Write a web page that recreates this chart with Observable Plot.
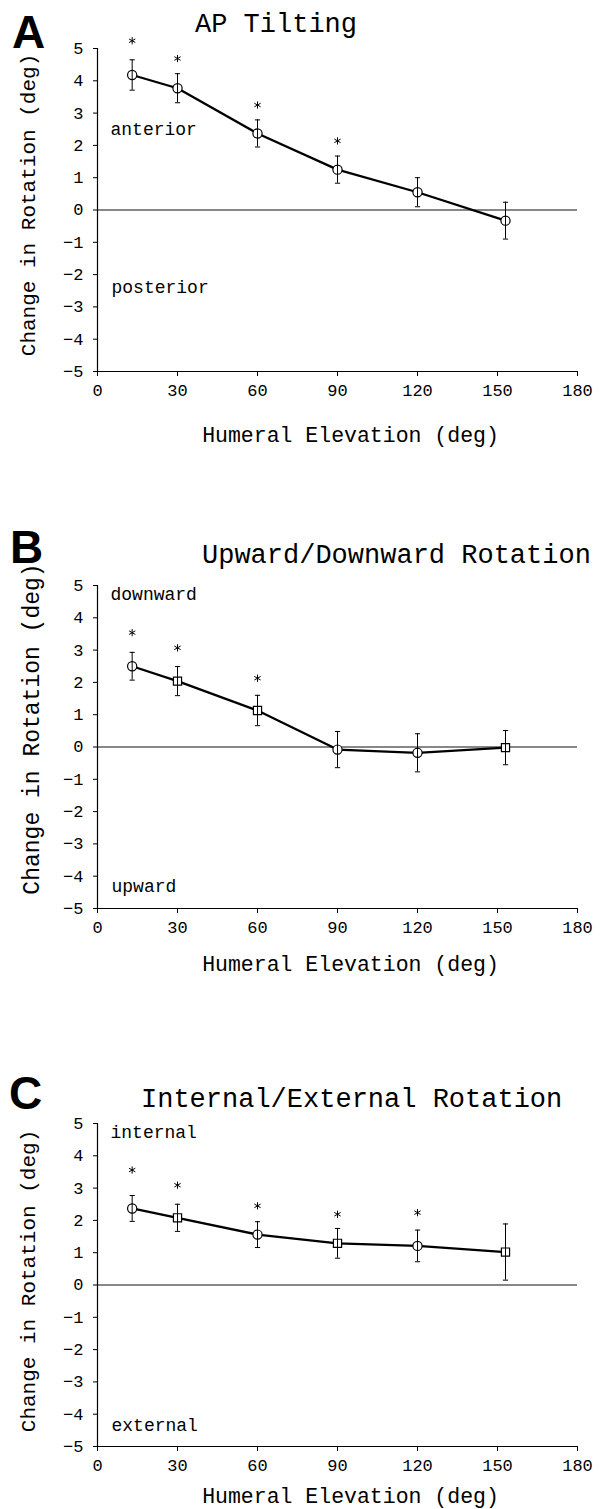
<!DOCTYPE html>
<html><head><meta charset="utf-8">
<script src="https://cdn.jsdelivr.net/npm/d3@7"></script>
<script src="https://cdn.jsdelivr.net/npm/@observablehq/plot@0.6"></script>
<style>
html,body{margin:0;padding:0;background:#fff;}
#root{position:relative;width:601px;height:1509px;overflow:hidden;font-family:"Liberation Mono","Courier New",monospace;color:#000;}
.panel{position:absolute;left:0;}
.letter{position:absolute;font-family:"Liberation Sans",Arial,sans-serif;font-weight:bold;font-size:46px;line-height:46px;}
.title{position:absolute;font-size:27px;line-height:27px;white-space:nowrap;}
</style></head><body><div id="root"></div>
<script>
// ---- data ----
const elevation = [13, 30, 60, 90, 120, 153];
const xTicks = [0, 30, 60, 90, 120, 150, 180];
const yTicks = [-5, -4, -3, -2, -1, 0, 1, 2, 3, 4, 5];

const titles = ["AP Tilting", "Upward/Downward Rotation", "Internal/External Rotation"];
const letters = ["A", "B", "C"];
const highLabels = ["anterior", "downward", "internal"];
const lowLabels = ["posterior", "upward", "external"];
const xLabel = "Humeral Elevation (deg)";
const yLabel = "Change in Rotation (deg)";

const apMean = [4.18, 3.77, 2.37, 1.25, 0.55, -0.33];
const apErr = [0.47, 0.45, 0.42, 0.42, 0.45, 0.57];
const apStar = [5.24, 4.69, 3.25, 2.14, null, null];
const apMarker = ["circle", "circle", "circle", "circle", "circle", "circle"];

const udMean = [2.50, 2.04, 1.13, -0.08, -0.18, -0.02];
const udErr = [0.43, 0.45, 0.47, 0.56, 0.59, 0.53];
const udStar = [3.54, 3.07, 2.13, null, null, null];
const udMarker = ["circle", "square", "square", "circle", "circle", "square"];

const ieMean = [2.37, 2.08, 1.56, 1.29, 1.21, 1.02];
const ieErr = [0.40, 0.42, 0.40, 0.46, 0.49, 0.87];
const ieStar = [3.56, 3.09, 2.45, 2.19, 2.24, null];
const ieMarker = ["circle", "square", "circle", "square", "circle", "square"];

// ---- layout ----
const FONT = "Liberation Mono, Courier New, monospace";
const capSymbol = {draw(ctx, size) { const r = Math.sqrt(size / Math.PI); ctx.moveTo(-r, 0); ctx.lineTo(r, 0); }};

function makePlot(mean, err, star, marker, hiText, loText, opt) {
  const rows = elevation.map((x, i) => ({x, y: mean[i], lo: mean[i] - err[i], hi: mean[i] + err[i], star: star[i], marker: marker[i]}));
  const starred = rows.filter(d => d.star != null);
  return Plot.plot({
    width: 601, height: 10 + 323 + 80,
    marginLeft: 97, marginRight: 24, marginTop: 10, marginBottom: 80,
    style: {fontFamily: FONT, fontSize: "17px", color: "#000", background: "transparent", overflow: "visible"},
    x: {domain: [0, 180]},
    y: {domain: [-5, 5]},
    symbol: {domain: ["circle", "square"], range: ["circle", "square"]},
    marks: [
      Plot.axisX({ticks: xTicks, tickSize: 5, tickPadding: 7, label: null, fontSize: 17, tickFormat: d => String(d)}),
      Plot.axisY({ticks: yTicks, tickSize: 4, tickPadding: 10, label: null, fontSize: 17}),
      Plot.ruleX([0], {stroke: "#000", strokeWidth: 1.2}),
      Plot.ruleY([-5], {stroke: "#000", strokeWidth: 1.2}),
      Plot.ruleY([0], {stroke: "#111", strokeWidth: 1.2}),
      Plot.line(rows, {x: "x", y: "y", stroke: "#000", strokeWidth: 2.3}),
      Plot.dot(rows, {x: "x", y: "y", symbol: "marker", r: 4.6, fill: "white", stroke: "#000", strokeWidth: 1.2}),
      Plot.ruleX(rows, {x: "x", y1: "lo", y2: "hi", stroke: "#000", strokeWidth: 1}),
      Plot.dot(rows, {x: "x", y: "lo", symbol: capSymbol, r: 2.6, fill: "none", stroke: "#000", strokeWidth: 1}),
      Plot.dot(rows, {x: "x", y: "hi", symbol: capSymbol, r: 2.6, fill: "none", stroke: "#000", strokeWidth: 1}),
      Plot.dot(starred, {x: "x", y: "star", symbol: "asterisk", r: 3.4, fill: "none", stroke: "#000", strokeWidth: 1}),
      Plot.text([hiText.text], {frameAnchor: hiText.anchor, textAnchor: "start", lineAnchor: "middle", dx: 13, dy: hiText.dy, fontSize: 18, fontFamily: FONT, fill: "#000"}),
      Plot.text([loText.text], {frameAnchor: loText.anchor, textAnchor: "start", lineAnchor: "middle", dx: 14, dy: loText.dy, fontSize: 18, fontFamily: FONT, fill: "#000"}),
      Plot.text([xLabel], {frameAnchor: "bottom", textAnchor: "middle", lineAnchor: "bottom", dx: 13, dy: opt.xDy, fontSize: 21.5, fontFamily: FONT, fill: "#000"}),
      Plot.text([yLabel], {frameAnchor: "left", textAnchor: "middle", lineAnchor: "middle", rotate: -90, dx: opt.yDx, dy: opt.yDy, fontSize: opt.yFont, fontFamily: FONT, fill: "#000"})
    ]
  });
}

const root = document.getElementById("root");
function addPanel(top, plot, letter, letterPos, title, titlePos) {
  const div = document.createElement("div");
  div.className = "panel";
  div.style.top = top + "px";
  div.appendChild(plot);
  root.appendChild(div);
  const l = document.createElement("div");
  l.className = "letter"; l.textContent = letter;
  l.style.left = letterPos[0] + "px"; l.style.top = letterPos[1] + "px";
  root.appendChild(l);
  const t = document.createElement("div");
  t.className = "title"; t.textContent = title;
  t.style.left = titlePos[0] + "px"; t.style.top = titlePos[1] + "px";
  root.appendChild(t);
}

addPanel(38,
  makePlot(apMean, apErr, apStar, apMarker,
    {text: highLabels[0], anchor: "left", dy: -81}, {text: lowLabels[0], anchor: "left", dy: 77},
    {xDy: 70, yDx: -69, yDy: -5, yFont: 21}),
  letters[0], [12, 9], titles[0], [195, 12]);
addPanel(575,
  makePlot(udMean, udErr, udStar, udMarker,
    {text: highLabels[1], anchor: "top-left", dy: 9}, {text: lowLabels[1], anchor: "bottom-left", dy: -22},
    {xDy: 62, yDx: -66, yDy: -18, yFont: 23}),
  letters[1], [10, 524], titles[1], [202, 543]);
addPanel(1113,
  makePlot(ieMean, ieErr, ieStar, ieMarker,
    {text: highLabels[2], anchor: "top-left", dy: 9}, {text: lowLabels[2], anchor: "bottom-left", dy: -21},
    {xDy: 56, yDx: -69, yDy: -4, yFont: 21}),
  letters[2], [9, 1070], titles[2], [141, 1087]);
</script></body></html>
